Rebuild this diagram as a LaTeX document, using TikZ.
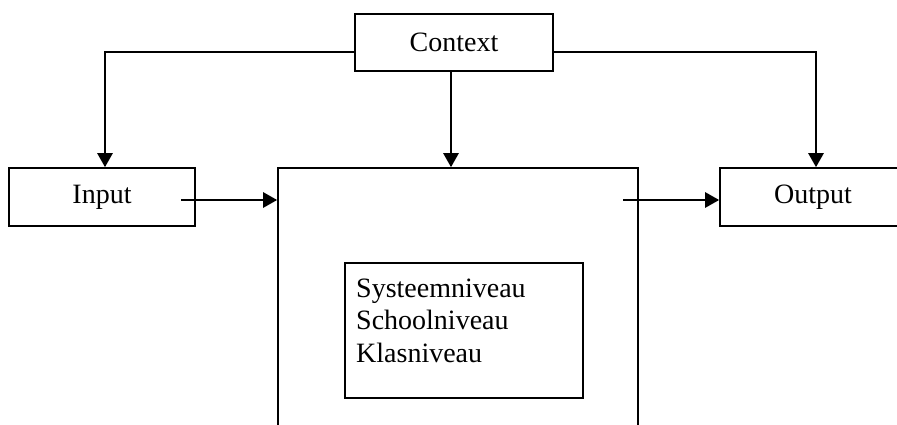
\documentclass[tikz,border=0pt]{standalone}
\usepackage{fontspec}
\setmainfont{Liberation Serif}
\usetikzlibrary{arrows.meta}
\begin{document}
\begin{tikzpicture}[x=1pt,y=-1pt,
  box/.style={draw=black,line width=1.6pt,rectangle,inner sep=0pt,font=\fontsize{28}{32.5}\selectfont},
  arr/.style={line width=2.6pt,-{Triangle[length=14pt,width=15pt]}},
  conn/.style={line width=2.6pt}]
\clip (0,0) rectangle (897,425);
\fill[white] (0,0) rectangle (897,425);
\node[box,minimum width=198pt,minimum height=57pt] (ctx) at (454,42.5) {Context};
\node[box,minimum width=186pt,minimum height=58pt] (inp) at (102,197) {Input};
\node[box,minimum width=186pt,minimum height=58pt] (out) at (813,197) {Output};
\node[box,minimum width=360pt,minimum height=290pt] (sys) at (458,313) {};
\node[box,minimum width=238pt,minimum height=135pt] (lev) at (464,330.5) {};
\node[anchor=base west,inner sep=0pt,align=left,font=\fontsize{28}{32.5}\selectfont] (levtxt) at (356,362) {Systeemniveau\\Schoolniveau\\Klasniveau};
\coordinate (inS) at (181,200);
\coordinate (outS) at (623,200);
\draw[arr] (inS) -- (inS -| sys.west);
\draw[arr] (outS) -- (outS -| out.west);
\draw[arr] ([yshift=-9.5pt]ctx.west) -| ([xshift=3pt]inp.north);
\draw[arr] ([yshift=-9.5pt]ctx.east) -| ([xshift=3pt]out.north);
\draw[arr] ([xshift=-3pt]ctx.south) -- ([xshift=-3pt]ctx.south |- sys.north);
\end{tikzpicture}
\end{document}
